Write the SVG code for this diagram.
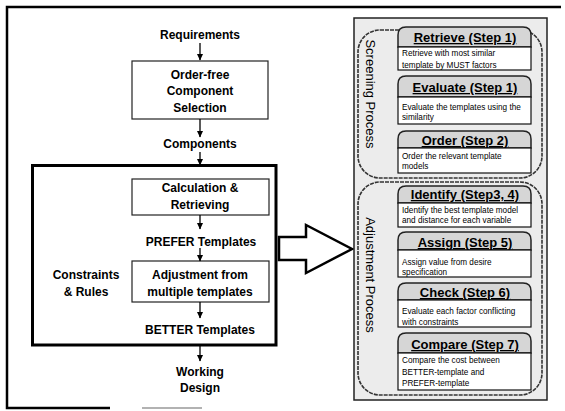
<svg xmlns="http://www.w3.org/2000/svg" width="565" height="411" viewBox="0 0 565 411">
<defs>
<marker id="ah" markerUnits="userSpaceOnUse" markerWidth="7" markerHeight="7" refX="3.5" refY="6" orient="auto-start-reverse" viewBox="0 0 7 7">
<path d="M0,0 L7,0 L3.5,6 Z" fill="#000" transform="rotate(-90 3.5 3.5)"/>
</marker>
<marker id="arr" markerUnits="userSpaceOnUse" markerWidth="7" markerHeight="7" refX="6" refY="3.5" orient="auto" viewBox="0 0 7 7">
<path d="M0,0.5 L6.5,3.5 L0,6.5 Z" fill="#000"/>
</marker>
</defs>
<style>
.lbl{font-family:"Liberation Sans",Arial,sans-serif;font-weight:bold;font-size:12px;fill:#000;text-anchor:middle}
.hdr{font-family:"Liberation Sans",Arial,sans-serif;font-weight:bold;font-size:13px;fill:#000;text-anchor:middle;text-decoration:underline}
.dsc{font-family:"Liberation Sans",Arial,sans-serif;font-size:8.2px;fill:#000}
.vt{font-family:"Liberation Sans",Arial,sans-serif;font-size:13px;fill:#000;text-anchor:middle;dominant-baseline:central}
.box{fill:#fff;stroke:#222;stroke-width:1.2}
.hb{fill:#d6d6d6;stroke:#222;stroke-width:1.5}
.db{fill:#fff;stroke:#111;stroke-width:1.2}
.grp{fill:none;stroke:#333;stroke-width:1.6;stroke-dasharray:4 1}
.cn{stroke:#000;stroke-width:1.3;fill:none;marker-end:url(#arr)}
</style>
<rect width="565" height="411" fill="#fff"/>
<!-- outer frame -->
<g id="frame" fill="none" stroke="#000" stroke-width="2.5">
<path d="M561,7 H7 V408 H110"/>
<path d="M142,408 H202" stroke="#999" stroke-width="1.5"/>
</g>
<!-- left flow -->
<g id="requirements"><text class="lbl" x="200" y="39">Requirements</text></g>
<g id="order-free">
<rect class="box" x="132" y="61" width="136" height="58"/>
<text class="lbl" x="200" y="79">Order-free</text>
<text class="lbl" x="200" y="95">Component</text>
<text class="lbl" x="200" y="112">Selection</text>
</g>
<g id="components"><text class="lbl" x="200" y="148">Components</text></g>
<g id="outer-box"><rect x="32.5" y="165.5" width="243.5" height="179.5" fill="none" stroke="#000" stroke-width="3"/></g>
<g id="calculation">
<rect class="box" x="132" y="179" width="137" height="36"/>
<text class="lbl" x="200" y="192">Calculation &amp;</text>
<text class="lbl" x="200" y="209">Retrieving</text>
</g>
<g id="prefer"><text class="lbl" x="201" y="246">PREFER Templates</text></g>
<g id="adjustment">
<rect class="box" x="132" y="261" width="137" height="41"/>
<text class="lbl" x="200" y="279">Adjustment from</text>
<text class="lbl" x="200" y="296">multiple templates</text>
</g>
<g id="constraints">
<text class="lbl" x="86" y="279">Constraints</text>
<text class="lbl" x="86" y="296">&amp; Rules</text>
</g>
<g id="better"><text class="lbl" x="200" y="334">BETTER Templates</text></g>
<g id="working">
<text class="lbl" x="200" y="376">Working</text>
<text class="lbl" x="200" y="392">Design</text>
</g>
<g id="connectors">
<line class="cn" x1="200" y1="43" x2="200" y2="60"/>
<line class="cn" x1="200" y1="119" x2="200" y2="137"/>
<line class="cn" x1="200" y1="152" x2="200" y2="165"/>
<line class="cn" x1="200" y1="215" x2="200" y2="229"/>
<line class="cn" x1="200" y1="248" x2="200" y2="261"/>
<line class="cn" x1="200" y1="302" x2="200" y2="318"/>
<line class="cn" x1="200" y1="346" x2="200" y2="361"/>
<polygon points="279,237 306,237 306,225 352,249 306,273 306,260 279,260" fill="#fff" stroke="#000" stroke-width="2.5" stroke-linejoin="miter"/>
</g>
<!-- right panel -->
<g id="panel">
<rect x="354" y="18" width="193" height="382" fill="#ececec" stroke="#222" stroke-width="1.5"/>
</g>
<g id="screening">
<rect class="grp" x="358" y="30" width="184" height="148" rx="22"/>
<text class="vt" transform="translate(370 94) rotate(90)">Screening Process</text>
</g>
<g id="adjustment-process">
<rect class="grp" x="358" y="182" width="184" height="213" rx="22"/>
<text class="vt" transform="translate(370 275) rotate(90)">Adjustment Process</text>
</g>
<g id="retrieve">
<path class="hb" d="M398,47 V35 Q398,27 406,27 H523 Q531,27 531,35 V47 Z"/>
<rect class="db" x="398" y="47" width="133" height="23"/>
<text class="hdr" x="465" y="42">Retrieve (Step 1)</text>
<text class="dsc" x="402" y="55.5">Retrieve with most similar</text>
<text class="dsc" x="402" y="67.5">template by MUST factors</text>
</g>
<g id="evaluate">
<path class="hb" d="M398,97 V84 Q398,76 406,76 H523 Q531,76 531,84 V97 Z"/>
<rect class="db" x="398" y="97" width="133" height="27"/>
<text class="hdr" x="465" y="92">Evaluate (Step 1)</text>
<text class="dsc" x="402" y="110">Evaluate the templates using the</text>
<text class="dsc" x="402" y="120">similarity</text>
</g>
<g id="order">
<path class="hb" d="M398,148 V139 Q398,131 406,131 H523 Q531,131 531,139 V148 Z"/>
<rect class="db" x="398" y="148" width="133" height="25"/>
<text class="hdr" x="465" y="145">Order (Step 2)</text>
<text class="dsc" x="402" y="159">Order the relevant template</text>
<text class="dsc" x="402" y="169">models</text>
</g>
<g id="identify">
<path class="hb" d="M398,203 V194 Q398,186 406,186 H523 Q531,186 531,194 V203 Z"/>
<rect class="db" x="398" y="203" width="133" height="24"/>
<text class="hdr" x="465" y="199">Identify (Step3, 4)</text>
<text class="dsc" x="402" y="213">Identify the best template model</text>
<text class="dsc" x="402" y="223">and distance for each variable</text>
</g>
<g id="assign">
<path class="hb" d="M398,250 V240 Q398,232 406,232 H523 Q531,232 531,240 V250 Z"/>
<rect class="db" x="398" y="250" width="133" height="27"/>
<text class="hdr" x="465" y="247">Assign (Step 5)</text>
<text class="dsc" x="402" y="265">Assign value from desire</text>
<text class="dsc" x="402" y="275">specification</text>
</g>
<g id="check">
<path class="hb" d="M398,300 V291 Q398,283 406,283 H523 Q531,283 531,291 V300 Z"/>
<rect class="db" x="398" y="300" width="133" height="27"/>
<text class="hdr" x="465" y="297">Check (Step 6)</text>
<text class="dsc" x="402" y="314">Evaluate each factor conflicting</text>
<text class="dsc" x="402" y="325">with constraints</text>
</g>
<g id="compare">
<path class="hb" d="M398,353 V341 Q398,333 406,333 H523 Q531,333 531,341 V353 Z"/>
<rect class="db" x="398" y="353" width="133" height="37"/>
<text class="hdr" x="465" y="349">Compare (Step 7)</text>
<text class="dsc" x="402" y="363">Compare the cost between</text>
<text class="dsc" x="402" y="375">BETTER-template and</text>
<text class="dsc" x="402" y="386">PREFER-template</text>
</g>
</svg>
